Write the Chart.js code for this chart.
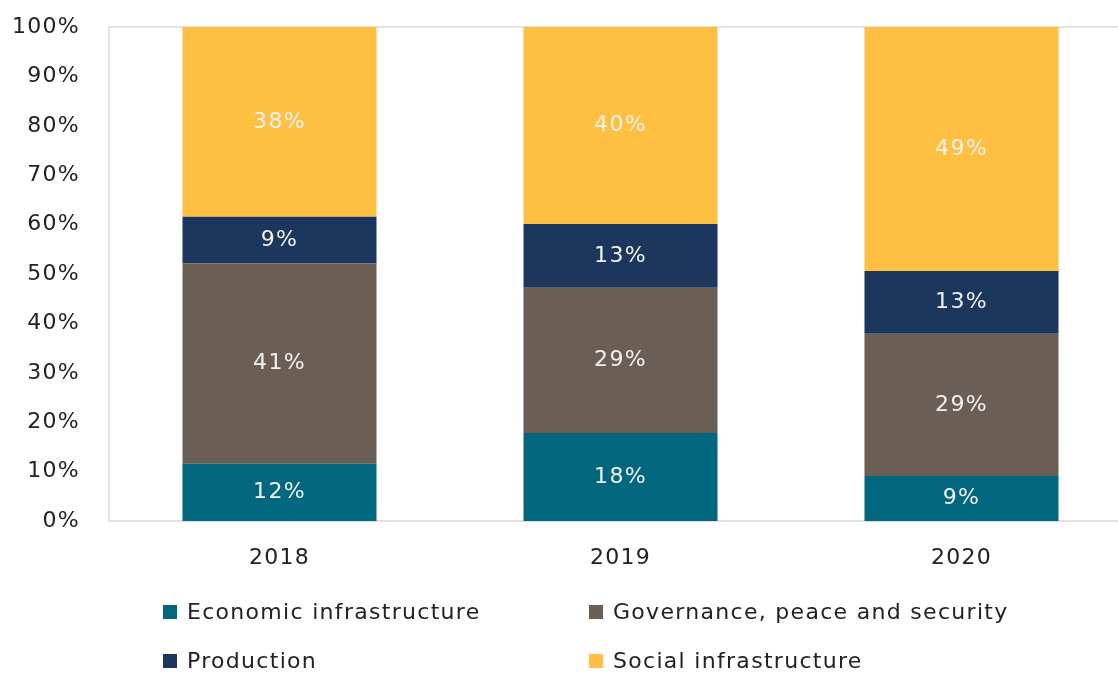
<!DOCTYPE html>
<html>
<head>
<meta charset="utf-8">
<script src="https://cdn.jsdelivr.net/npm/chart.js@4"></script>
<style>
  html, body { margin: 0; padding: 0; background: #fff; overflow: hidden; }
  #wrap { position: relative; width: 1118px; height: 675px; overflow: hidden; }
  #box { position: absolute; left: 0; top: 0; width: 1140px; height: 675px; }
  .legend { position: absolute; font-family: "DejaVu Sans", sans-serif; font-size: 22px; letter-spacing: 1.3px; color: #222; }
  .legend .item { position: absolute; white-space: nowrap; line-height: 24px; }
  .legend .sw { display: inline-block; width: 14px; height: 14px; margin-right: 10px; vertical-align: 0px; }
</style>
</head>
<body>
<div id="wrap">
  <div id="box"><canvas id="chart"></canvas></div>
  <div class="legend" id="legend"></div>
</div>
<script>
const years = ['2018', '2019', '2020'];
const economic = [11.6, 17.8, 9.1];
const governance = [40.6, 29.4, 28.8];
const production = [9.4, 12.9, 12.7];
const social = [38.4, 39.9, 49.4];
const yTicks = [0, 10, 20, 30, 40, 50, 60, 70, 80, 90, 100];

const seriesNames = ['Economic infrastructure', 'Governance, peace and security', 'Production', 'Social infrastructure'];
const seriesColors = ['#00677e', '#6b5f55', '#1c365e', '#ffbf40'];
const seriesData = [economic, governance, production, social];

// wider letter spacing, closer to the original font
const spacing = {
    id: 'spacing',
    beforeDraw(chart) { chart.ctx.letterSpacing = '1.3px'; }
};

// white value labels in the middle of each segment
const segmentLabels = {
    id: 'segmentLabels',
    afterDatasetsDraw(chart) {
        const ctx = chart.ctx;
        ctx.save();
        ctx.font = '22px "DejaVu Sans", sans-serif';
        ctx.fillStyle = '#f2f2f2';
        ctx.textAlign = 'center';
        ctx.textBaseline = 'middle';
        chart.data.datasets.forEach((ds, i) => {
            chart.getDatasetMeta(i).data.forEach((bar, j) => {
                const mid = (bar.y + bar.base) / 2;
                ctx.fillText(Math.round(ds.data[j]) + '%', bar.x, mid);
            });
        });
        ctx.restore();
    }
};

// light frame round the plot area
const plotFrame = {
    id: 'plotFrame',
    beforeDatasetsDraw(chart) {
        const a = chart.chartArea;
        const ctx = chart.ctx;
        ctx.save();
        ctx.strokeStyle = '#d9d9d9';
        ctx.lineWidth = 1.5;
        ctx.strokeRect(a.left, a.top, a.right - a.left, a.bottom - a.top);
        ctx.restore();
    }
};

const ctx = document.getElementById('chart').getContext('2d');
const chart = new Chart(ctx, {
    type: 'bar',
    data: {
        labels: years,
        datasets: seriesNames.map((name, i) => ({
            label: name,
            data: seriesData[i],
            backgroundColor: seriesColors[i],
            borderWidth: 0,
            barPercentage: 0.569,
            categoryPercentage: 1.0
        }))
    },
    options: {
        responsive: true,
        maintainAspectRatio: false,
        animation: false,
        layout: { padding: { top: 27, right: 8, left: 0, bottom: 0 } },
        plugins: {
            legend: { display: false },
            tooltip: { enabled: false }
        },
        scales: {
            x: {
                stacked: true,
                grid: { display: false, drawTicks: false },
                border: { display: false },
                ticks: {
                    color: '#222',
                    font: { family: 'DejaVu Sans', size: 22 },
                    padding: 24
                },
                afterFit: (scale) => { scale.height = 154; }
            },
            y: {
                stacked: true,
                min: 0,
                max: 100,
                afterBuildTicks: (scale) => { scale.ticks = yTicks.map(v => ({ value: v })); },
                grid: { display: false, drawTicks: false },
                border: { display: false },
                ticks: {
                    color: '#222',
                    font: { family: 'DejaVu Sans', size: 22 },
                    padding: 29,
                    callback: (value) => value + '%'
                },
                afterFit: (scale) => {
                    scale.width = 109;
                    scale.paddingTop = 0;
                    scale.paddingBottom = 0;
                }
            }
        }
    },
    plugins: [spacing, plotFrame, segmentLabels]
});

// legend in two columns, like the original
const legendPos = [[163, 600], [589, 600], [163, 649], [589, 649]];
const legendEl = document.getElementById('legend');
seriesNames.forEach((name, i) => {
    const item = document.createElement('div');
    item.className = 'item';
    item.style.left = legendPos[i][0] + 'px';
    item.style.top = legendPos[i][1] + 'px';
    item.innerHTML = '<span class="sw" style="background:' + seriesColors[i] + '"></span>' + name;
    legendEl.appendChild(item);
});
</script>
</body>
</html>
